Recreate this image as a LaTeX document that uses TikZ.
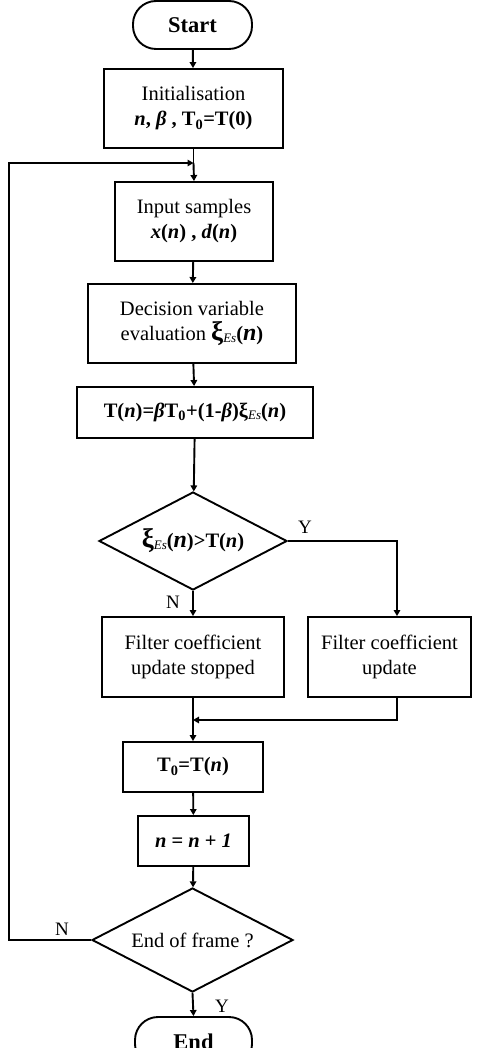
\documentclass[tikz,border=0pt]{standalone}
\usepackage{fontspec}
\setmainfont{Liberation Serif}
\usetikzlibrary{shapes.geometric,arrows.meta}
\newcommand\bi[1]{\textbf{\textit{#1}}}
\newcommand\xiEs[1]{\textbf{\fontsize{#1}{#1}\selectfont ξ}\raisebox{-2pt}{\fontsize{13}{13}\selectfont\itshape Es}}
\begin{document}
\begin{tikzpicture}[x=1pt,y=-1pt,
  every node/.style={font=\fontsize{20.5}{25}\selectfont},
  box/.style={draw,line width=1.9pt,rectangle,align=center,inner sep=1pt},
  term/.style={draw,line width=1.9pt,rectangle,rounded corners=23pt,font=\fontsize{22.5}{24}\selectfont\bfseries},
  dec/.style={draw,line width=1.9pt,diamond,inner sep=0pt},
  lbl/.style={font=\fontsize{19}{21}\selectfont},
  conn/.style={line width=1.9pt},
  arr/.style={line width=1.9pt,-{Triangle[length=6pt,width=6.5pt]}}]
\useasboundingbox (0,0) rectangle (487,1048);
\node[term,minimum width=119pt,minimum height=48pt] (start) at (192.5,25) {Start};
\node[box,minimum width=179pt,minimum height=79pt] (init) at (193.5,108.5) {Initialisation\\ \bi{n}\textbf{, \textit{β} , T\textsubscript{0}=T(0)}};
\node[box,minimum width=158pt,minimum height=79pt] (input) at (194,221.5) {Input samples\\ \bi{x}\textbf{(}\bi{n}\textbf{) , }\bi{d}\textbf{(}\bi{n}\textbf{)}};
\node[box,minimum width=208pt,minimum height=79pt] (eval) at (192,323.5) {Decision variable\\ evaluation \xiEs{27}\textbf{(}{\fontsize{24}{24}\selectfont\bi{n}}\textbf{)}};
\node[box,minimum width=236pt,minimum height=51pt] (tn) at (195,412.5) {\textbf{T(}\bi{n}\textbf{)=}\bi{β}\textbf{T\textsubscript{0}+(1-}\bi{β}\textbf{)}\xiEs{20.5}\textbf{(}\bi{n}\textbf{)}};
\node[dec,minimum width=188pt,minimum height=98pt] (d1) at (193,541) {};
\node (d1t) at (d1.center) {\xiEs{27}\textbf{(}{\fontsize{24}{24}\selectfont\bi{n}}\textbf{)>T(}\bi{n}\textbf{)}};
\node[box,minimum width=182pt,minimum height=80pt] (stop) at (193,657) {Filter coefficient\\ update stopped};
\node[box,minimum width=163pt,minimum height=80pt] (upd) at (389.5,657) {Filter coefficient\\ update};
\node[box,minimum width=140pt,minimum height=50pt] (t0) at (193,767) {\textbf{T\textsubscript{0}=T(}\bi{n}\textbf{)}};
\node[box,minimum width=111pt,minimum height=50pt] (inc) at (193.5,841) {\bi{n} \textbf{= }\bi{n} \textbf{+ }\bi{1}};
\node[dec,minimum width=201pt,minimum height=104pt] (d2) at (192.5,940) {};
\node (d2t) at (d2.center) {End of frame ?};
\node[term,minimum width=117pt,minimum height=50pt] (end) at (193.5,1042) {End};
\coordinate (j1) at (193.5,163);
\coordinate (lb) at (9,940);
\coordinate (lt) at (9,163);
\coordinate (ry) at (397,541);
\coordinate (rb) at (397,720);
\coordinate (j2) at (193,720);
\draw[arr] (start) -- (init);
\draw[conn] (init.south) -- (j1);
\draw[arr] (j1) -- (input.north);
\draw[arr] (d2.west) -- (lb) -- (lt) -- (j1);
\draw[arr] (input) -- (eval);
\draw[arr] (eval) -- (tn);
\draw[arr] (tn) -- (d1);
\draw[arr] (d1.east) -- (ry) -- (ry |- upd.north);
\draw[arr] (d1.south) -- (stop.north);
\draw[arr] (upd.south -| rb) -- (rb) -- (j2);
\draw[arr] (stop.south) -- (t0.north);
\draw[arr] (t0) -- (inc);
\draw[arr] (inc) -- (d2);
\draw[arr] (d2.south) -- (end.north);
\node[lbl] (ly1) at (305,527) {Y};
\node[lbl] (ln1) at (173,602) {N};
\node[lbl] (ln2) at (62,929) {N};
\node[lbl] (ly2) at (222,1006) {Y};
\end{tikzpicture}
\end{document}
